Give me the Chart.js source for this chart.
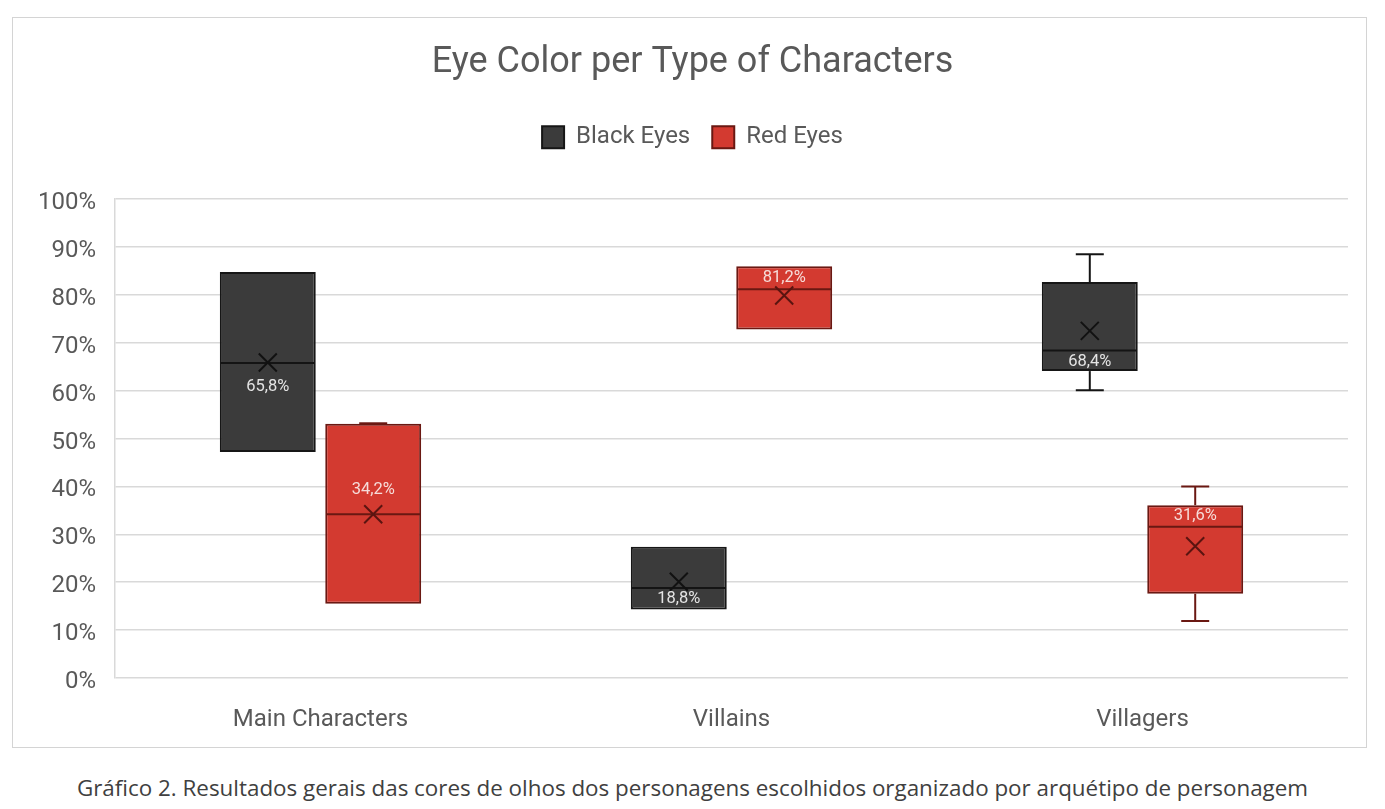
<!DOCTYPE html>
<html>
<head>
<meta charset="utf-8">
<script src="https://cdn.jsdelivr.net/npm/chart.js@4.4.1/dist/chart.umd.min.js"></script>
<style>
  html, body { margin: 0; padding: 0; background: #ffffff; }
  body { width: 1385px; height: 809px; position: relative; overflow: hidden; }
  #frame { position: absolute; left: 12px; top: 17px; width: 1355px; height: 731px; box-sizing: border-box; border: 1px solid #d4d4d4; }
  #c { position: absolute; left: 0; top: 0; }
  #caption { position: absolute; left: 0; top: 774px; width: 1385px; text-align: center; font-family: "Open Sans", sans-serif; font-size: 22.4px; line-height: 28px; color: #404040; white-space: nowrap; }
</style>
</head>
<body>
<div id="frame"></div>
<canvas id="c" width="1385" height="760"></canvas>
<div id="caption">Gráfico 2. Resultados gerais das cores de olhos dos personagens escolhidos organizado por arquétipo de personagem</div>
<script>
// ---- data ----
const categories = ['Main Characters', 'Villains', 'Villagers'];
const seriesNames = ['Black Eyes', 'Red Eyes'];
const yTicks = [0, 10, 20, 30, 40, 50, 60, 70, 80, 90, 100];

const blackMin    = [47.2, 14.3, 60.1];
const blackQ1     = [47.2, 14.3, 64.1];
const blackMedian = [65.8, 18.8, 68.4];
const blackQ3     = [84.8, 27.4, 82.7];
const blackMax    = [84.8, 27.4, 88.5];
const blackMean   = [65.9, 20.1, 72.5];

const redMin    = [15.5, 72.8, 11.9];
const redQ1     = [15.5, 72.8, 17.6];
const redMedian = [34.2, 81.2, 31.6];
const redQ3     = [53.1, 86.0, 36.1];
const redMax    = [53.2, 86.0, 40.0];
const redMean   = [34.2, 79.9, 27.5];

// ---- styles ----
const series = [
  { min: blackMin, q1: blackQ1, med: blackMedian, q3: blackQ3, max: blackMax, mean: blackMean,
    fill: '#3b3b3b', border: '#161616', line: '#141414', mark: '#111111', text: '#e4e4e4', labelSide: 1 },
  { min: redMin, q1: redQ1, med: redMedian, q3: redQ3, max: redMax, mean: redMean,
    fill: '#d33a30', border: '#6a1812', line: '#6a1812', mark: '#5a1410', text: '#f6dcd9', labelSide: -1 }
];

Chart.defaults.font.family = 'Roboto, "Noto Sans", sans-serif';
Chart.defaults.color = '#595959';

const boxExtras = {
  id: 'boxExtras',
  beforeInit(chart) {
    const origFit = chart.legend.fit;
    chart.legend.fit = function () { origFit.call(this); this.height += 40; };
  },
  afterDatasetsDraw(chart) {
    const ctx = chart.ctx;
    const ys = chart.scales.y;
    series.forEach((s, di) => {
      const meta = chart.getDatasetMeta(di);
      meta.data.forEach((bar, j) => {
        const cx = bar.x, hw = bar.width / 2;
        const pMin = ys.getPixelForValue(s.min[j]);
        const pQ1 = ys.getPixelForValue(s.q1[j]);
        const pMed = ys.getPixelForValue(s.med[j]);
        const pQ3 = ys.getPixelForValue(s.q3[j]);
        const pMax = ys.getPixelForValue(s.max[j]);
        const pMean = ys.getPixelForValue(s.mean[j]);
        ctx.save();
        ctx.strokeStyle = s.line;
        ctx.lineWidth = 2;
        ctx.lineCap = 'butt';
        const capHalf = 14;
        if (s.max[j] > s.q3[j]) {
          ctx.beginPath(); ctx.moveTo(cx, pQ3); ctx.lineTo(cx, pMax); ctx.stroke();
          ctx.beginPath(); ctx.moveTo(cx - capHalf, pMax); ctx.lineTo(cx + capHalf, pMax); ctx.stroke();
        }
        if (s.min[j] < s.q1[j]) {
          ctx.beginPath(); ctx.moveTo(cx, pQ1); ctx.lineTo(cx, pMin); ctx.stroke();
          ctx.beginPath(); ctx.moveTo(cx - capHalf, pMin); ctx.lineTo(cx + capHalf, pMin); ctx.stroke();
        }
        // median
        ctx.beginPath(); ctx.moveTo(cx - hw + 1, pMed); ctx.lineTo(cx + hw - 1, pMed); ctx.stroke();
        // mean marker (x)
        const m = 9;
        ctx.strokeStyle = s.mark;
        ctx.lineWidth = 2;
        ctx.beginPath();
        ctx.moveTo(cx - m, pMean - m); ctx.lineTo(cx + m, pMean + m);
        ctx.moveTo(cx + m, pMean - m); ctx.lineTo(cx - m, pMean + m);
        ctx.stroke();
        // median label (pushed further when the mean marker sits on the label side)
        const d = (pMean - pMed) * s.labelSide;
        const off = (d > -3 && d < 30) ? 24 : 11;
        ctx.fillStyle = s.text;
        ctx.font = '16.5px Roboto, "Noto Sans", sans-serif';
        ctx.textAlign = 'center';
        ctx.textBaseline = 'middle';
        const txt = s.med[j].toFixed(1).replace('.', ',') + '%';
        ctx.fillText(txt, cx, pMed + s.labelSide * off);
        ctx.restore();
      });
    });
  }
};

new Chart(document.getElementById('c'), {
  type: 'bar',
  data: {
    labels: categories,
    datasets: series.map((s, i) => ({
      label: seriesNames[i],
      data: s.q1.map((v, j) => [v, s.q3[j]]),
      backgroundColor: s.fill,
      borderColor: s.border,
      borderWidth: 2,
      borderSkipped: false,
      categoryPercentage: 0.513,
      barPercentage: 0.91
    }))
  },
  options: {
    responsive: false,
    animation: false,
    layout: { padding: { top: 17, left: 12, right: 12, bottom: 12 } },
    plugins: {
      tooltip: { enabled: false },
      title: {
        display: true,
        text: 'Eye Color per Type of Characters',
        color: '#595959',
        font: { size: 36, weight: 'normal' },
        padding: { top: 24, bottom: 19 }
      },
      legend: {
        display: true,
        position: 'top',
        labels: {
          color: '#595959',
          font: { size: 24 },
          boxWidth: 22,
          boxHeight: 22,
          padding: 22
        }
      }
    },
    scales: {
      x: {
        grid: { display: false },
        border: { display: false },
        ticks: { color: '#595959', font: { size: 24 }, padding: 20 },
        afterFit(scale) { scale.height = 70; }
      },
      y: {
        min: 0,
        max: 100,
        afterBuildTicks(scale) { scale.ticks = yTicks.map(v => ({ value: v })); },
        grid: { color: '#d9d9d9', lineWidth: 1.5, drawTicks: false },
        border: { display: true, color: '#d9d9d9', width: 1.5 },
        ticks: { color: '#595959', font: { size: 24 }, padding: 19, labelOffset: 4, callback: v => v + '%' },
        afterFit(scale) { scale.width = 103; }
      },
      yR: {
        position: 'right',
        display: true,
        grid: { display: false },
        border: { display: false },
        ticks: { display: false },
        afterFit(scale) { scale.width = 25; }
      }
    }
  },
  plugins: [boxExtras]
});
</script>
</body>
</html>
